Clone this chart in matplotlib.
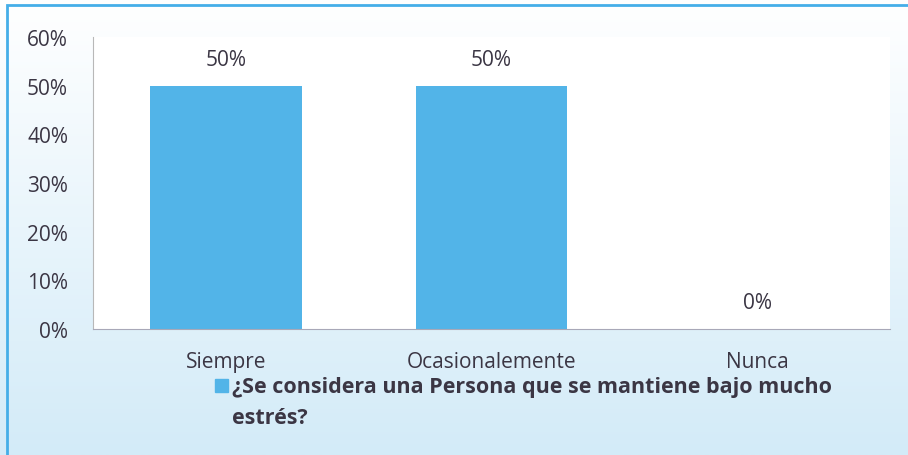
import numpy as np
import matplotlib
matplotlib.use("Agg")
import matplotlib.pyplot as plt
from matplotlib.patches import Rectangle
from matplotlib.ticker import FuncFormatter

categorias = ["Siempre", "Ocasionalemente", "Nunca"]
valores = [0.50, 0.50, 0.00]
etiquetas = ["50%", "50%", "0%"]
serie = "¿Se considera una Persona que se mantiene bajo mucho\nestrés?"

plt.rcParams['font.family'] = ['Open Sans', 'DejaVu Sans']
texto = "#3b3644"
azul = "#52b4e8"

fig = plt.figure(figsize=(9.08, 4.56), dpi=100)

# fondo degradado (blanco arriba, celeste abajo)
fondo = fig.add_axes([0, 0, 1, 1], zorder=-10)
grad = np.linspace(0, 1, 256).reshape(-1, 1)
cmap = matplotlib.colors.LinearSegmentedColormap.from_list("g", ["#ffffff", "#d3ebf8"])
fondo.imshow(grad, aspect="auto", cmap=cmap, extent=[0, 1, 0, 1], origin="upper")
fondo.set_axis_off()

# borde azul de la imagen escaneada
fig.add_artist(Rectangle((7 / 908, -0.1), 1.1, 1 - 6 / 456 + 0.1, transform=fig.transFigure,
                         fill=False, edgecolor="#45aee8", linewidth=2))

ax = fig.add_axes([93 / 908, 1 - 330 / 456, 797 / 908, 292 / 456])
ax.set_facecolor("white")
x = np.arange(len(categorias))
ax.bar(x, valores, width=0.57, color=azul)
ax.set_xlim(-0.5, 2.5)
ax.set_ylim(0, 0.6)
ax.yaxis.set_major_formatter(FuncFormatter(lambda v, p: "%d%%" % round(v * 100)))
ax.set_xticks(x)
ax.set_xticklabels(categorias)
ax.tick_params(axis="both", length=0, labelsize=15, colors=texto)
ax.tick_params(axis="x", pad=16)
ax.tick_params(axis="y", pad=18)
for s in ["top", "right"]:
    ax.spines[s].set_visible(False)
ax.spines["left"].set_color("#b8b8b8")
ax.spines["bottom"].set_color("#a8a8b8")

for xi, v, t in zip(x, valores, etiquetas):
    ax.annotate(t, (xi, v), xytext=(0, 19), textcoords="offset points",
                ha="center", va="center", fontsize=15, color=texto)

# leyenda
fig.add_artist(Rectangle((215 / 908, 1 - 393 / 456), 13 / 908, 13 / 456,
                         transform=fig.transFigure, color=azul))
fig.text(232 / 908, 1 - 377 / 456, serie, ha="left", va="top", fontsize=15.5,
         fontweight="bold", color=texto, linespacing=1.65)

fig.savefig("out.png", dpi=100)
